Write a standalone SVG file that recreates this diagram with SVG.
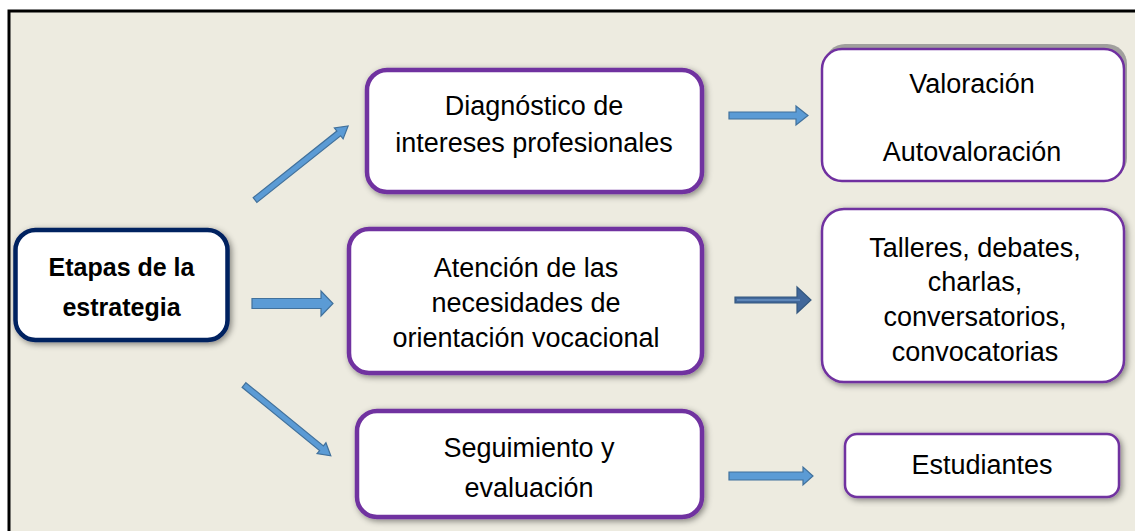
<svg xmlns="http://www.w3.org/2000/svg" width="1135" height="531" viewBox="0 0 1135 531">
<defs>
<style>
.t{font-family:"Liberation Sans",Arial,sans-serif;font-size:27px;fill:#000;text-anchor:middle}
.b{font-weight:bold;font-size:25px}
.stage{fill:#fff;stroke:#7030A0;stroke-width:4.5}
.res{fill:#fff;stroke:#7030A0;stroke-width:2.5}
.arr{fill:#5B9BD5;stroke:#41719C;stroke-width:1.2}
.arrd{fill:#41679A;stroke:#35587F;stroke-width:1.2}
</style>
<filter id="sh" x="-10%" y="-15%" width="120%" height="130%">
<feDropShadow dx="2" dy="2" stdDeviation="3" flood-color="#000" flood-opacity="0.45"/>
</filter>
</defs>
<rect x="0" y="0" width="1135" height="531" fill="#fff"/>
<rect x="9" y="11" width="1140" height="530" fill="#EDEBE0" stroke="#000" stroke-width="3"/>

<g id="etapas">
<rect x="15.5" y="230" width="212" height="110" rx="20" fill="#fff" stroke="#002060" stroke-width="4.5" filter="url(#sh)"/>
<text class="t b" x="121.5" y="276">Etapas de la</text>
<text class="t b" x="121.5" y="316">estrategia</text>
</g>

<g id="diagnostico">
<rect class="stage" x="367" y="70" width="335" height="122" rx="20" filter="url(#sh)"/>
<text class="t" x="534" y="115">Diagnóstico de</text>
<text class="t" x="534" y="152">intereses profesionales</text>
</g>

<g id="atencion">
<rect class="stage" x="349" y="229" width="353" height="144" rx="20" filter="url(#sh)"/>
<text class="t" x="526" y="277">Atención de las</text>
<text class="t" x="526" y="312">necesidades de</text>
<text class="t" x="526" y="347">orientación vocacional</text>
</g>

<g id="seguimiento">
<rect class="stage" x="357" y="411" width="345" height="106" rx="20" filter="url(#sh)"/>
<text class="t" x="529" y="457">Seguimiento y</text>
<text class="t" x="529" y="497">evaluación</text>
</g>

<g id="valoracion">
<rect x="825" y="44" width="302" height="134" rx="20" fill="#8C8C8C" opacity="0.8"/>
<rect class="res" x="822" y="49" width="302" height="132" rx="20"/>
<text class="t" x="972" y="93">Valoración</text>
<text class="t" x="972" y="161">Autovaloración</text>
</g>

<g id="talleres">
<rect class="res" x="822" y="209" width="302" height="173" rx="22" filter="url(#sh)"/>
<text class="t" x="975" y="257">Talleres, debates,</text>
<text class="t" x="975" y="291">charlas,</text>
<text class="t" x="975" y="326">conversatorios,</text>
<text class="t" x="975" y="361">convocatorias</text>
</g>

<g id="estudiantes">
<rect class="res" x="845" y="434" width="274" height="63" rx="12" filter="url(#sh)"/>
<text class="t" x="982" y="474">Estudiantes</text>
</g>

<g id="connectors">
<polygon class="arr" transform="translate(255,200) rotate(-38.5)" points="0,-3 107,-3 107,-7 119,0 107,7 107,3 0,3"/>
<polygon class="arr" points="252,298.5 321,298.5 321,291 333,303.5 321,316 321,308.5 252,308.5"/>
<polygon class="arr" transform="translate(244,385) rotate(39.2)" points="0,-3 100,-3 100,-7 112,0 100,7 100,3 0,3"/>
<polygon class="arr" points="729,112 796,112 796,106 808,115.5 796,125 796,119 729,119"/>
<polygon class="arrd" points="735,297 797,297 797,287 811,300 797,313 797,303 735,303"/>
<line x1="737" y1="300" x2="800" y2="300" stroke="#7FA8D8" stroke-width="1"/>
<polygon class="arr" points="729,472 803,472 803,467 813,476 803,485 803,480 729,480"/>
</g>
</svg>
